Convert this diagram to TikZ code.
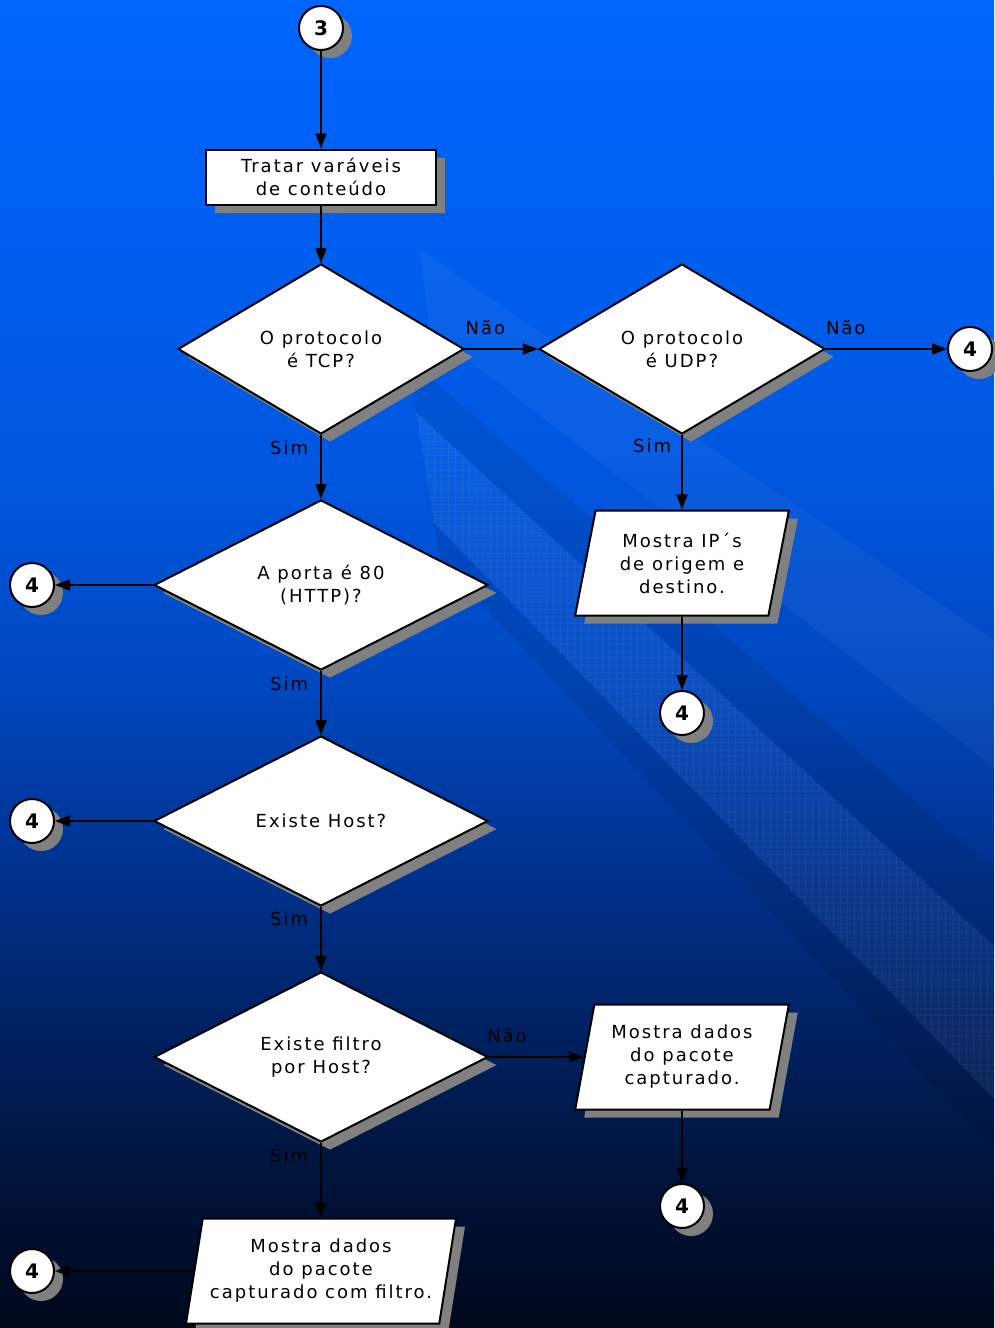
\documentclass[tikz,border=0pt]{standalone}
\usepackage{fontspec}
\newfontfamily\flowfont{DejaVu Sans}[LetterSpace=11]
\usetikzlibrary{shapes.geometric,arrows.meta,shadows}

\definecolor{bgtop}{RGB}{0,102,255}
\definecolor{bgc5}{RGB}{0,88,225}
\definecolor{bgc4}{RGB}{0,72,192}
\definecolor{bgc3}{RGB}{0,55,155}
\definecolor{bgc2}{RGB}{0,38,110}
\definecolor{bgc1}{RGB}{0,20,60}
\definecolor{bgbot}{RGB}{0,8,28}
\pgfdeclareverticalshading{bgshade}{100bp}{color(0bp)=(bgbot); color(25bp)=(bgbot);
  color(31bp)=(bgc1); color(38bp)=(bgc2); color(44bp)=(bgc3); color(49.4bp)=(bgc4);
  color(58bp)=(bgc5); color(75bp)=(bgtop); color(100bp)=(bgtop)}

\begin{document}
\begin{tikzpicture}[x=1pt, y=-1pt,
  >={Triangle[length=15pt,width=11pt]},
  every node/.style={font=\flowfont\fontsize{18}{23}\selectfont},
  flow/.style={draw, line width=2pt, fill=white, align=center,
    drop shadow={shadow xshift=9pt, shadow yshift=-8pt, fill=gray, opacity=1}},
  conn/.style={circle, flow, minimum size=44pt, inner sep=0pt,
    font=\flowfont\bfseries\fontsize{20}{20}\selectfont},
  tarefa/.style={rectangle, flow, minimum width=230pt, minimum height=55pt},
  decisao/.style={diamond, flow, minimum width=334pt, minimum height=170pt, inner sep=0pt},
  saida/.style={trapezium, trapezium left angle=77, trapezium right angle=103,
    trapezium stretches=true, flow, minimum width=214pt, minimum height=105pt},
  rot/.style={inner sep=1pt},
  seta/.style={line width=1.8pt, ->}]

  % fundo
  \fill[shading=bgshade] (0,0) rectangle (994,1328);
  \useasboundingbox (0,0) rectangle (994,1328);
  \begin{scope}
    \clip (0,0) rectangle (994,1328);
    \fill[white, opacity=.04] (420,250) -- (994,640) -- (994,768) -- (430,330) -- cycle;
    \fill[black, opacity=.08] (407,357) -- (994,870) -- (994,946) -- (416,412) -- cycle;
    \fill[white, opacity=.045] (416,412) -- (994,946) -- (994,1099) -- (434,523) -- cycle;
    \clip (416,412) -- (994,946) -- (994,1099) -- (434,523) -- cycle;
    \draw[white, opacity=.05, line width=.5pt] (400,400) grid[step=7pt] (994,1110);
  \end{scope}
  \fill[black, opacity=.08] (434,523) -- (994,1099) -- (994,1150) -- (440,560) -- cycle;

  % coluna principal
  \node[conn] (c3) at (321,28) {3};
  \node[tarefa] (tratar) at (321,177) {Tratar varáveis\\de conteúdo};
  \node[decisao, minimum width=286pt] (tcp) at (321,349) {O protocolo\\é TCP?};
  \node[decisao, minimum width=286pt] (udp) at (682,349) {O protocolo\\é UDP?};
  \node[conn] (c4a) at (970,349) {4};
  \node[saida] (ips) at (682,563) {Mostra IP´s\\de origem e\\destino.};
  \node[conn] (c4b) at (682,713) {4};
  \node[decisao] (http) at (321,585) {A porta é 80\\(HTTP)?};
  \node[conn] (c4c) at (32,585) {4};
  \node[decisao] (host) at (321,821) {Existe Host?};
  \node[conn] (c4d) at (32,821) {4};
  \node[decisao] (filtro) at (321,1057) {Existe filtro\\por Host?};
  \node[saida] (dados) at (682,1057) {Mostra dados\\do pacote\\capturado.};
  \node[conn] (c4e) at (682,1206) {4};
  \node[saida, minimum width=270pt] (comfiltro) at (321,1271) {Mostra dados\\do pacote\\capturado com filtro.};
  \node[conn] (c4f) at (32,1271) {4};

  % ligacoes
  \draw[seta] (c3) -- (tratar);
  \draw[seta] (tratar) -- (tcp);
  \draw[seta] (tcp) -- node[rot, pos=0.28, above=12pt]{Não} (udp);
  \draw[seta] (udp) -- node[rot, pos=0.163, above=12pt]{Não} (c4a);
  \draw[seta] (udp) -- node[rot, pos=0.14, left=9pt]{Sim} (ips);
  \draw[seta] (ips) -- (c4b);
  \draw[seta] (tcp) -- node[rot, pos=0.2, left=11pt]{Sim} (http);
  \draw[seta] (http) -- (c4c);
  \draw[seta] (http) -- node[rot, pos=0.2, left=11pt]{Sim} (host);
  \draw[seta] (host) -- (c4d);
  \draw[seta] (host) -- node[rot, pos=0.18, left=11pt]{Sim} (filtro);
  \draw[seta] (filtro) -- node[rot, pos=0.19, above=12pt]{Não} (dados);
  \draw[seta] (dados) -- (c4e);
  \draw[seta] (filtro) -- node[rot, pos=0.17, left=11pt]{Sim} (comfiltro);
  \draw[seta] (comfiltro) -- (c4f);
\end{tikzpicture}
\end{document}
